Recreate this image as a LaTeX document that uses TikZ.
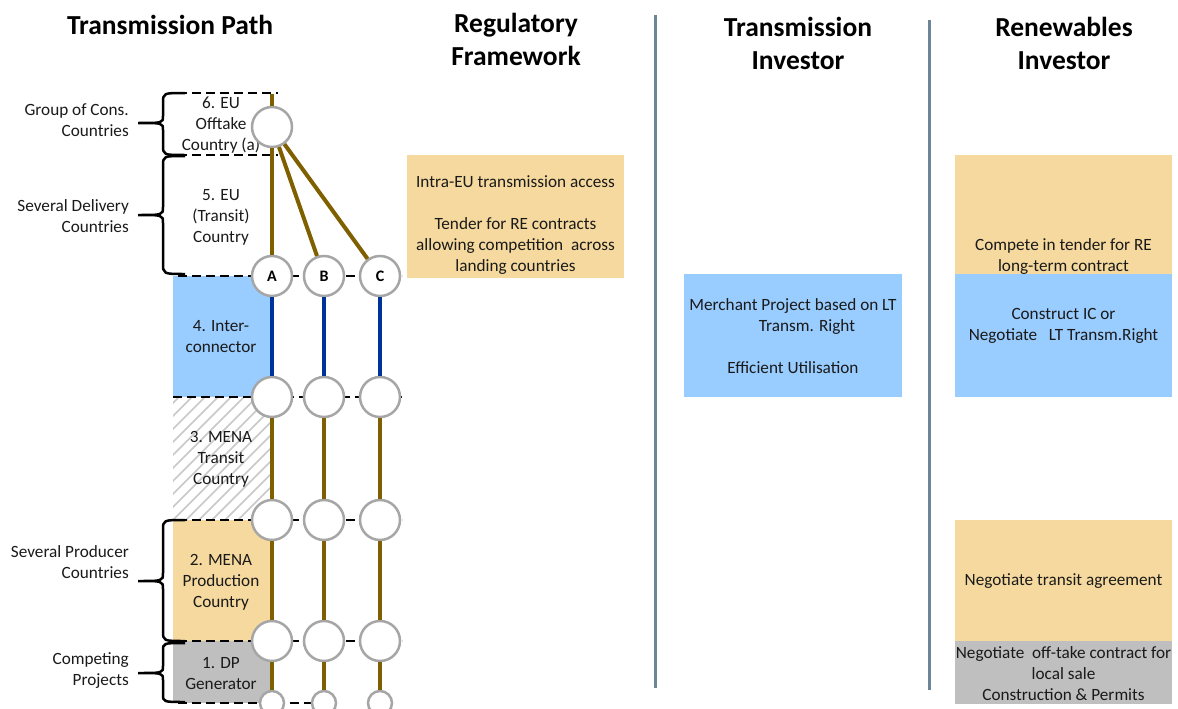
\documentclass[tikz,border=0pt]{standalone}
\usepackage{fontspec}
\setmainfont{Carlito}
\definecolor{tanc}{HTML}{F6D99E}
\definecolor{icblue}{HTML}{99CCFF}
\definecolor{dpgray}{HTML}{BFBFBF}
\definecolor{brownc}{HTML}{7F6000}
\definecolor{bluec}{HTML}{003399}
\definecolor{circgray}{HTML}{A6A6A6}
\definecolor{sepc}{HTML}{6B8797}
\definecolor{hatchc}{HTML}{C8C8C8}
\definecolor{txtc}{HTML}{1A1A1A}
\begin{document}
\begin{tikzpicture}[x=1pt,y=-1pt,
 txt/.style={font=\fontsize{17.2}{21}\selectfont, text=txtc, align=center, inner sep=0pt},
 ltxt/.style={txt, align=right, anchor=east},
 hdr/.style={font=\fontsize{27.5}{33}\bfseries\selectfont, text=black, align=center, inner sep=0pt},
 stn/.style={circle, draw=circgray, fill=white, line width=2.5pt, minimum size=40pt, inner sep=0pt, font=\fontsize{16}{16}\bfseries\selectfont},
 stnsmall/.style={stn, minimum size=24pt},
 dline/.style={dash pattern=on 9pt off 5pt, line width=2.3pt},
 brownl/.style={draw=brownc, line width=4pt},
 bluel/.style={draw=bluec, line width=4pt},
 brc/.style={line width=2.5pt},
 sepl/.style={draw=sepc, line width=3pt}
]
\useasboundingbox (0,0) rectangle (1178,709);

% headers
\node[hdr] (h1) at (170,25) {Transmission Path};
\node[hdr] (h2) at (516,39) {Regulatory\\Framework};
\node[hdr] (h3) at (798,43) {Transmission\\Investor};
\node[hdr] (h4) at (1064,43) {Renewables\\Investor};

% separators
\draw[sepl] (655,15) -- (655,688);
\draw[sepl] (929,20) -- (929,690);

% region fills
\fill[icblue] (173,276) rectangle (270,397);
\fill[tanc] (173,520) rectangle (270,641);
\fill[dpgray] (173,641) rectangle (270,703);
\begin{scope}
\clip (173,397) rectangle (270,520);
\foreach \i in {0,...,19} \draw[hatchc, line width=1.5pt] (43+\i*13, 520) -- ++(130,-130);
\end{scope}

% dashed boundaries
\draw[dline] (178,93) -- (278,93);
\draw[dline] (178,155) -- (278,155);
\draw[dline] (178,276) -- (402,276);
\draw[dline] (173,397) -- (402,397);
\draw[dline] (178,520) -- (402,520);
\draw[dline] (178,641) -- (402,641);
\draw[dline] (178,703) -- (312,703);

% braces
\draw[brc] (185,93) .. controls (163,93) .. (163,103) -- (163,116) .. controls (163,123) .. (138,123) .. controls (163,123) .. (163,130) -- (163,145) .. controls (163,155) .. (185,155);
\draw[brc] (185,156) .. controls (163,156) .. (163,166) -- (163,207) .. controls (163,215) .. (138,215) .. controls (163,215) .. (163,223) -- (163,263) .. controls (163,274) .. (185,274);
\draw[brc] (185,520) .. controls (163,520) .. (163,530) -- (163,573) .. controls (163,581) .. (138,581) .. controls (163,581) .. (163,589) -- (163,631) .. controls (163,641) .. (185,641);
\draw[brc] (185,643) .. controls (163,643) .. (163,651) -- (163,666) .. controls (163,673) .. (138,673) .. controls (163,673) .. (163,680) -- (163,694) .. controls (163,702) .. (185,702);

% brace labels
\node[ltxt] (g1) at (129,120.5) {Group of Cons.\\Countries};
\node[ltxt] (g2) at (129,216.5) {Several Delivery\\Countries};
\node[ltxt] (g3) at (129,562.5) {Several Producer\\Countries};
\node[ltxt] (g4) at (129,670.5) {Competing\\Projects};

% region labels
\node[txt] (r6) at (221,125) {6. EU\\Offtake\\Country (a)};
\node[txt] (r5) at (221,217) {5. EU\\(Transit)\\Country};
\node[txt] (r4) at (221,337) {4. Inter-\\connector};
\node[txt] (r3) at (221,459) {3. MENA\\Transit\\Country};
\node[txt] (r2) at (221,582) {2. MENA\\Production\\Country};
\node[txt] (r1) at (221,673.5) {1. DP\\Generator};

% stations
\node[stn] (t) at (272,127) {};
\node[stn] (a1) at (272,276) {A};
\node[stn] (b1) at (324,276) {B};
\node[stn] (c1) at (380,276) {C};
\node[stn] (a2) at (272,397) {};
\node[stn] (b2) at (324,397) {};
\node[stn] (c2) at (380,397) {};
\node[stn] (a3) at (272,520) {};
\node[stn] (b3) at (324,520) {};
\node[stn] (c3) at (380,520) {};
\node[stn] (a4) at (272,641) {};
\node[stn] (b4) at (324,641) {};
\node[stn] (c4) at (380,641) {};
\node[stnsmall] (a5) at (272,703) {};
\node[stnsmall] (b5) at (324,703) {};
\node[stnsmall] (c5) at (380,703) {};
\coordinate (ttop) at (272,94);

% connectors
\draw[brownl] (t) -- (ttop);
\draw[brownl] (t) -- (a1);
\draw[brownl] (t) -- (b1);
\draw[brownl] (t) -- (c1);
\foreach \c in {a,b,c} {
  \draw[bluel] (\c1) -- (\c2);
  \draw[brownl] (\c2) -- (\c3);
  \draw[brownl] (\c3) -- (\c4);
  \draw[brownl] (\c4) -- (\c5);
}

% regulatory framework
\fill[tanc] (407,155) rectangle (624,278);
\node[txt] (reg) at (515.5,225.5) {Intra-EU transmission access\\[21pt]Tender for RE contracts\\allowing competition\ \ across\\landing countries};

% transmission investor
\fill[icblue] (684,274) rectangle (902,397);
\node[txt] (ti) at (793,336) {Merchant Project based on LT\\\hspace*{28pt}Transm. Right\\[21pt]Efficient Utilisation};

% renewables investor
\fill[tanc] (955,155) rectangle (1172,274);
\node[txt] (ri1) at (1063.5,257) {Compete in tender for RE\\long-term contract};
\fill[icblue] (955,274) rectangle (1172,397);
\node[txt] (ri2) at (1063.5,325.5) {Construct IC or\\Negotiate\ \ \ LT Transm.Right};
\fill[tanc] (955,520) rectangle (1172,641);
\node[txt] (ri3) at (1063.5,581) {Negotiate transit agreement};
\fill[dpgray] (955,641) rectangle (1172,704);
\node[txt] (ri4) at (1063.5,674) {Negotiate\ \ off-take contract for\\local sale\\Construction \& Permits};
\end{tikzpicture}
\end{document}
